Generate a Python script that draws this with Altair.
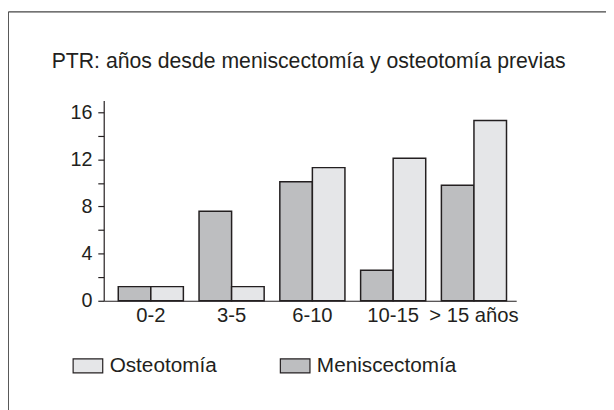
import altair as alt
import pandas as pd

categories = ["0-2", "3-5", "6-10", "10-15", "> 15 años"]
meniscectomia = [1.2, 7.6, 10.1, 2.6, 9.8]
osteotomia = [1.2, 1.2, 11.3, 12.1, 15.3]
series_legend = ["Osteotomía", "Meniscectomía"]
series_order = ["Meniscectomía", "Osteotomía"]
series_colors = ["#e5e6e8", "#bdbec0"]
y_ticks = [0, 2, 4, 6, 8, 10, 12, 14, 16]
title_text = "PTR: años desde meniscectomía y osteotomía previas"

rows = []
for c, m, o in zip(categories, meniscectomia, osteotomia):
    rows.append({"grupo": c, "serie": "Meniscectomía", "valor": m})
    rows.append({"grupo": c, "serie": "Osteotomía", "valor": o})
df = pd.DataFrame(rows)

FONT = "Liberation Sans"
INK = "#231f20"
W, H = 418, 203

bars = alt.Chart(df).mark_bar(stroke=INK, strokeWidth=1.5).encode(
    x=alt.X(
        "grupo:N",
        sort=categories,
        scale=alt.Scale(paddingInner=0.194, paddingOuter=0.15, align=0.6),
        axis=alt.Axis(
            title=None, labelAngle=0, ticks=False, labelPadding=5,
            labelFontSize=20.5, labelFont=FONT, labelColor=INK,
            domainColor=INK, domainWidth=1.2,
        ),
    ),
    xOffset=alt.XOffset(
        "serie:N",
        scale=alt.Scale(domain=series_order, paddingInner=0, paddingOuter=0),
    ),
    y=alt.Y(
        "valor:Q",
        scale=alt.Scale(domain=[0, 17], nice=False, zero=True),
        axis=alt.Axis(
            title=None, values=y_ticks, grid=False,
            labelExpr="datum.value % 4 == 0 ? datum.label : ''",
            tickSize=6, tickColor=INK, tickWidth=1.2,
            labelPadding=6, labelFontSize=20, labelFont=FONT, labelColor=INK,
            domainColor=INK, domainWidth=1.2,
        ),
    ),
    fill=alt.Fill(
        "serie:N",
        scale=alt.Scale(domain=series_legend, range=series_colors),
        legend=alt.Legend(
            title=None, orient="none", legendX=-32, legendY=253,
            direction="horizontal",
            symbolType="M-1,-0.47L1,-0.47L1,0.47L-1,0.47Z",
            symbolSize=900, symbolStrokeColor=INK, symbolStrokeWidth=1.2,
            symbolOpacity=1,
            labelFont=FONT, labelFontSize=21, labelColor=INK,
            labelOffset=6, columnPadding=61, labelLimit=300,
        ),
    ),
)

one = pd.DataFrame({"t": [title_text]})
frame_left = alt.Chart(one).mark_rule(color="#444444", strokeWidth=1.2).encode(
    x=alt.value(-96.7), y=alt.value(-89.7), y2=alt.value(330)
)
frame_top = alt.Chart(one).mark_rule(color="#444444", strokeWidth=1.2).encode(
    x=alt.value(-96.7), x2=alt.value(520), y=alt.value(-89.7)
)
title = alt.Chart(one).mark_text(
    align="left", baseline="alphabetic", font=FONT, fontSize=21.5, color=INK
).encode(text="t:N", x=alt.value(-52.7), y=alt.value(-33.3))

chart = alt.layer(frame_left, frame_top, title, bars).properties(
    width=W,
    height=H,
    padding={"left": 97, "top": 91, "right": 91, "bottom": 108},
    autosize=alt.AutoSizeParams(type="none"),
).configure(background="white").configure_view(stroke=None)

chart.save("out.html", embed_options={"renderer": "svg", "actions": False})
